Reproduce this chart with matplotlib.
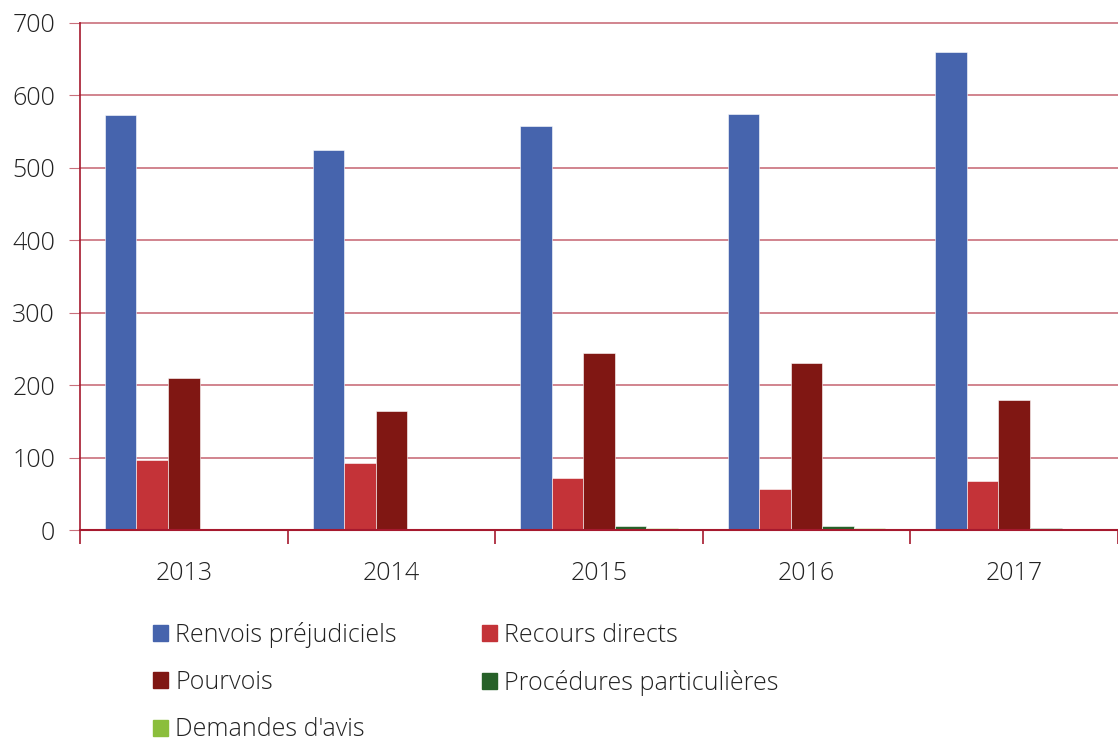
import numpy as np
import matplotlib.pyplot as plt
from matplotlib.patches import Patch

plt.rcParams['font.family'] = ['Open Sans', 'DejaVu Sans']

# ── données ──────────────────────────────────────────────
years = ["2013", "2014", "2015", "2016", "2017"]
renvois = [573, 525, 558, 574, 660]
recours = [96, 93, 72, 57, 67]
pourvois = [210, 164, 244, 230, 180]
procedures = [1, 2, 5, 5, 3]
avis = [2, 1, 3, 3, 1]

series = [
    ("Renvois préjudiciels", renvois, "#4664AD"),
    ("Recours directs", recours, "#C43338"),
    ("Pourvois", pourvois, "#801713"),
    ("Procédures particulières", procedures, "#276129"),
    ("Demandes d'avis", avis, "#8BBE3C"),
]

fig = plt.figure(figsize=(11.18, 7.42), dpi=100)
ax = fig.add_axes([80 / 1118, 1 - 530 / 742, 1 - 80 / 1118, (530 - 23) / 742])

x = np.arange(len(years))
w = 0.152
for i, (name, vals, col) in enumerate(series):
    ax.bar(x - 2 * w + i * w, vals, width=w, color=col, edgecolor="white",
           linewidth=0.4, zorder=3, label=name)

ax.set_ylim(0, 700)
ax.set_xlim(-0.5, len(years) - 0.5)
ax.set_yticks(range(0, 701, 100))
ax.yaxis.grid(True, color="#C9707C", linewidth=1.2, zorder=0)
for gl in ax.get_ygridlines():
    gl.set_clip_on(False)
ax.tick_params(axis="y", length=8, color="#C9707C", labelsize=18, pad=10)

# ticks x aux limites des catégories
ax.set_xticks(np.arange(-0.5, len(years), 1.0))
ax.set_xticklabels([])
ax.set_xticks(x, minor=True)
ax.set_xticklabels(years, minor=True, fontsize=18)
ax.tick_params(axis="x", which="major", length=10, color="#A6192E", width=1.2)
ax.tick_params(axis="x", which="minor", length=0, pad=22)

for s in ["top", "right"]:
    ax.spines[s].set_visible(False)
ax.spines["left"].set_color("#A6192E")
ax.spines["bottom"].set_color("#A6192E")
ax.spines["left"].set_linewidth(1.2)
ax.spines["bottom"].set_linewidth(1.5)
ax.spines["bottom"].set_zorder(4)

for lbl in ax.get_yticklabels() + ax.get_xticklabels(minor=True):
    lbl.set_color("#222222")
    lbl.set_fontweight("light")

order = [0, 2, 4, 1, 3]
handles = [Patch(color=series[i][2]) for i in order]
labels = [series[i][0] for i in order]
leg = fig.legend(handles, labels, ncol=2, loc="upper left",
                 bbox_to_anchor=(130 / 1118, 1 - 599 / 742), frameon=False,
                 fontsize=18, handlelength=0.6, handleheight=0.6,
                 handletextpad=0.3, labelspacing=0.9, columnspacing=3.4)
for t in leg.get_texts():
    t.set_fontweight("light")
    t.set_color("#222222")

fig.savefig("out.png", dpi=100)
